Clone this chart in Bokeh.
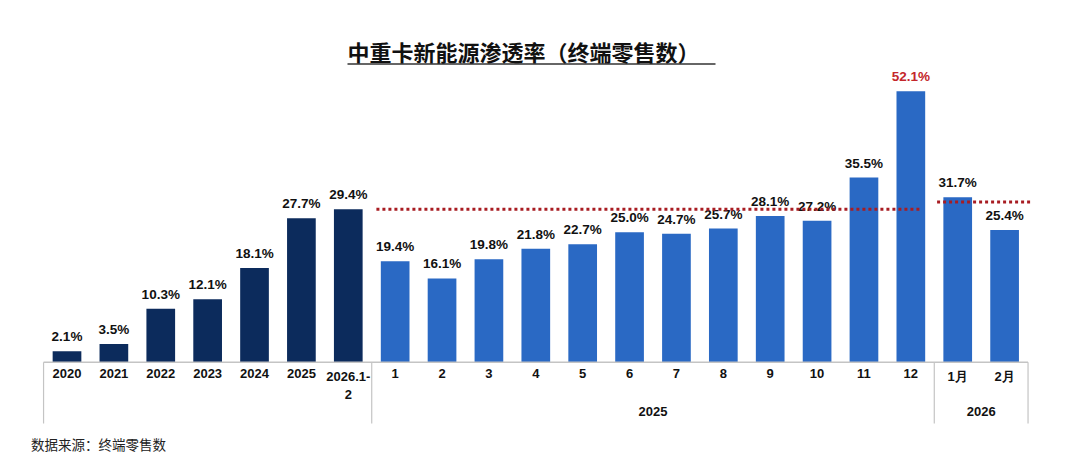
from bokeh.plotting import figure
from bokeh.models import ColumnDataSource, Range1d
from bokeh.core.properties import value
from bokeh.embed import file_html
from bokeh.resources import INLINE

# ---------------- data ----------------
annual_labels = ["2020", "2021", "2022", "2023", "2024", "2025", "2026.1-2"]
annual_values = [2.1, 3.5, 10.3, 12.1, 18.1, 27.7, 29.4]
month_2025_labels = ["1", "2", "3", "4", "5", "6", "7", "8", "9", "10", "11", "12"]
month_2025_values = [19.4, 16.1, 19.8, 21.8, 22.7, 25.0, 24.7, 25.7, 28.1, 27.2, 35.5, 52.1]
month_2026_labels = ["1月", "2月"]
month_2026_values = [31.7, 25.4]
group_labels = ["2025", "2026"]
ref_line_2025 = 29.4
ref_line_2026 = 30.8
highlight_label = "12"
title_text = "中重卡新能源渗透率（终端零售数）"
source_text = "数据来源：终端零售数"

# ---------------- styles / layout ----------------
DARK = "#0c2b5c"
BLUE = "#2a69c4"
RED_TXT = "#c4262b"
DOT = "#a81c22"
GRAY = "#c4c4c4"
FONT = "Liberation Sans"
CJK = "Noto Sans CJK SC"

W, H = 1079, 458
X0, DX = 66.5, 46.88     # pixel of category 0 and category pitch
Y0, DY = 361.7, 5.2      # pixel of value 0 and pixels per percent


def fx(px):
    return (px - X0) / DX


def fy(py):
    return (Y0 - py) / DY


labels = annual_labels + month_2025_labels + month_2026_labels
values = annual_values + month_2025_values + month_2026_values
n_a, n_m, n_b = len(annual_labels), len(month_2025_labels), len(month_2026_labels)
idx = list(range(len(labels)))
colors = [DARK] * n_a + [BLUE] * (n_m + n_b)
txt_colors = [RED_TXT if (l == highlight_label and n_a <= i < n_a + n_m) else "#111111"
              for i, l in enumerate(labels)]
shown = [l.replace("2026.1-2", "2026.1-\n2") for l in labels]

src = ColumnDataSource(dict(x=idx, top=values, color=colors, tcolor=txt_colors,
                            lbl=[f"{v:.1f}%" for v in values], tick=shown))

p = figure(width=W, height=H, x_range=Range1d(-X0 / DX, (W - X0) / DX),
           y_range=Range1d(-(H - Y0) / DY, Y0 / DY),
           output_backend="svg", toolbar_location=None,
           x_axis_type=None, y_axis_type=None, min_border=0)
p.outline_line_color = None
p.background_fill_color = "white"
p.border_fill_color = "white"

# bars
p.vbar(x="x", top="top", bottom=0, width=0.612, fill_color="color",
       line_color=None, source=src)

# value labels
p.text(x="x", y="top", text="lbl", source=src, text_color="tcolor",
       text_font=value(FONT), text_font_style="bold", text_font_size="13.5px",
       text_align="center", text_baseline="middle", y_offset=-14.5)

# category axis line and group separators
p.segment(x0=[-0.5], x1=[len(labels) - 0.5], y0=[0], y1=[0],
          line_color=GRAY, line_width=1.5)
bounds = [-0.5, n_a - 0.5, n_a + n_m - 0.5, len(labels) - 0.5]
p.segment(x0=bounds, x1=bounds, y0=[0] * 4, y1=[fy(423)] * 4,
          line_color=GRAY, line_width=1.2)

# tick labels
p.text(x="x", y=0, text="tick", source=src, text_color="#111111",
       text_font=value(FONT), text_font_style="bold", text_font_size="13px",
       text_align="center", text_baseline="top", y_offset=7, text_line_height=1.2)

# group labels
gx = [n_a + (n_m - 1) / 2, n_a + n_m + (n_b - 1) / 2]
p.text(x=gx, y=[0, 0], text=group_labels, text_color="#111111",
       text_font=value(FONT), text_font_style="bold", text_font_size="13px",
       text_align="center", text_baseline="middle", y_offset=49.5)

# dotted reference lines
p.segment(x0=[n_a - 0.4], x1=[n_a + n_m - 1 + 0.21],
          y0=[ref_line_2025], y1=[ref_line_2025],
          line_color=DOT, line_width=3, line_dash="3 3")
p.segment(x0=[n_a + n_m - 0.44], x1=[len(labels) - 1 + 0.59],
          y0=[ref_line_2026], y1=[ref_line_2026],
          line_color=DOT, line_width=3, line_dash="3 3")

# title with underline
p.text(x=[fx(523)], y=[fy(50)], text=[title_text], text_color="#111111",
       text_font=value(CJK), text_font_style="bold", text_font_size="22px",
       text_align="center", text_baseline="middle")
p.segment(x0=[fx(347)], x1=[fx(715)], y0=[fy(63.5)], y1=[fy(63.5)],
          line_color="#333333", line_width=1.5)

# source note
p.text(x=[fx(30.5)], y=[fy(443)], text=[source_text], text_color="#222222",
       text_font=value(CJK), text_font_size="13.5px",
       text_align="left", text_baseline="middle")

open("out.html", "w").write(file_html(p, INLINE))
